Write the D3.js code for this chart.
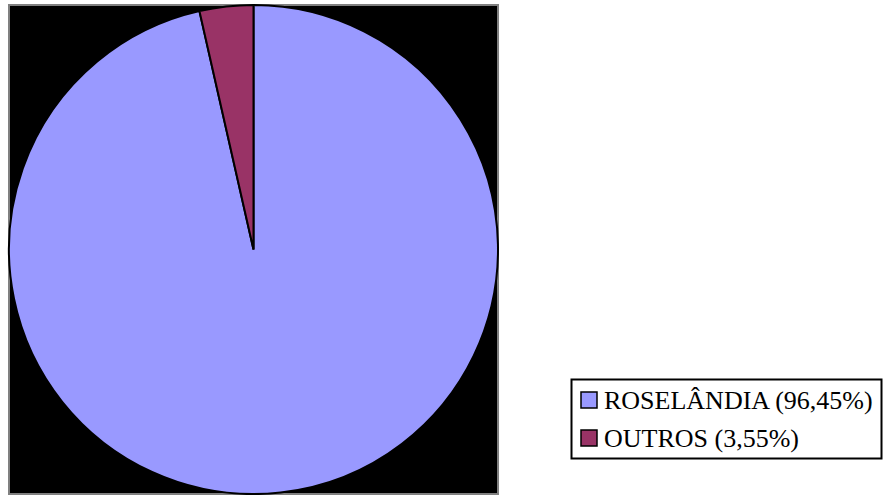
<!DOCTYPE html>
<html>
<head>
<meta charset="utf-8">
<script src="https://cdn.jsdelivr.net/npm/d3@7"></script>
<style>
  body { margin: 0; background: #fff; }
  svg { display: block; }
</style>
</head>
<body>
<script>
var categories = ["ROSELÂNDIA", "OUTROS"];
var values = [96.45, 3.55];
var labels = ["ROSELÂNDIA (96,45%)", "OUTROS (3,55%)"];
var colors = ["#9999ff", "#993366"];

var width = 883, height = 495;

var svg = d3.select("body").append("svg")
  .attr("width", width)
  .attr("height", height);

// plot area
svg.append("rect")
  .attr("x", 9).attr("y", 5)
  .attr("width", 489).attr("height", 489)
  .attr("fill", "#000")
  .attr("stroke", "#808080")
  .attr("stroke-width", 2);

var cx = 253.5, cy = 249.5, r = 244.5;

var data = categories.map(function(c, i) { return {name: c, value: values[i], color: colors[i]}; });

// roselandia goes clockwise from 12 o'clock, outros fills the rest
var pie = d3.pie()
  .value(function(d) { return d.value; })
  .sort(null);

var arc = d3.arc().innerRadius(0).outerRadius(r);

svg.append("g")
  .attr("transform", "translate(" + cx + "," + cy + ")")
  .selectAll("path")
  .data(pie(data))
  .enter().append("path")
  .attr("d", arc)
  .attr("fill", function(d) { return d.data.color; })
  .attr("stroke", "#000")
  .attr("stroke-width", 2)
  .attr("stroke-linejoin", "miter");

// legend
var lg = svg.append("g");
lg.append("rect")
  .attr("x", 571.5).attr("y", 379.5)
  .attr("width", 310).attr("height", 79)
  .attr("fill", "#fff")
  .attr("stroke", "#000")
  .attr("stroke-width", 2);

var rows = lg.selectAll("g.item")
  .data(data)
  .enter().append("g")
  .attr("class", "item")
  .attr("transform", function(d, i) { return "translate(0," + (i * 38) + ")"; });

rows.append("rect")
  .attr("x", 581).attr("y", 392)
  .attr("width", 16).attr("height", 16)
  .attr("fill", function(d) { return d.color; })
  .attr("stroke", "#000")
  .attr("stroke-width", 1.5);

rows.append("text")
  .attr("x", 604).attr("y", 409)
  .style("font-family", "'Liberation Serif', 'Times New Roman', serif")
  .style("font-size", "26px")
  .attr("fill", "#000")
  .text(function(d, i) { return labels[i]; });
</script>
</body>
</html>
